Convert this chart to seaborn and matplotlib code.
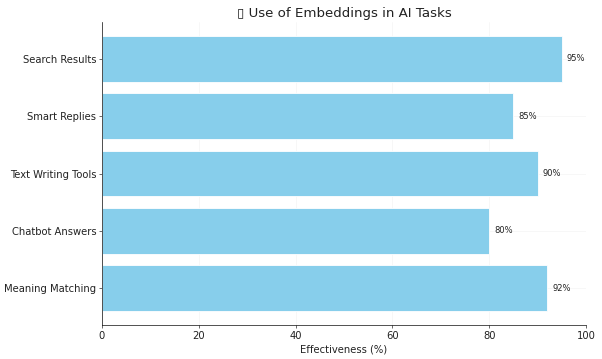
import matplotlib
matplotlib.use("Agg")
import matplotlib.pyplot as plt
import seaborn as sns
import pandas as pd

# chart data
tasks = ["Search Results", "Smart Replies", "Text Writing Tools",
         "Chatbot Answers", "Meaning Matching"]
effectiveness = [95, 85, 90, 80, 92]
xticks = [0, 20, 40, 60, 80, 100]

df = pd.DataFrame({"Task": tasks, "Effectiveness": effectiveness})

sns.set_style("whitegrid", rc={
    "axes.edgecolor": "black",
    "xtick.bottom": True,
    "ytick.left": True,
    "grid.color": "#ebebeb",
    "text.color": "#222222",
    "xtick.color": "#222222",
    "ytick.color": "#222222",
    "axes.labelcolor": "#222222",
})
plt.rcParams["font.family"] = ["DejaVu Sans"]

fig, ax = plt.subplots(figsize=(602 / 60, 359 / 60), dpi=60)
fig.subplots_adjust(left=0.1694, right=0.9734, top=0.9387, bottom=0.0947)

sns.barplot(data=df, y="Task", x="Effectiveness", color="skyblue",
            orient="h", width=0.8, saturation=1, ax=ax)

# value labels next to bars
for i, v in enumerate(effectiveness):
    ax.text(v + 1, i, f"{v}%", va="center", fontsize=10)

ax.set_xlim(0, 100)
ax.set_ylim(len(tasks) - 0.36, -0.64)
ax.set_xticks(xticks)
ax.tick_params(labelsize=12)
ax.set_xlabel("Effectiveness (%)", fontsize=12)
ax.set_ylabel("")
# the reference shows the title icon as an empty box
ax.set_title("\u25af Use of Embeddings in AI Tasks", fontsize=16)
ax.grid(True, alpha=0.6)
sns.despine(ax=ax)

fig.savefig("out.png", dpi=60)
